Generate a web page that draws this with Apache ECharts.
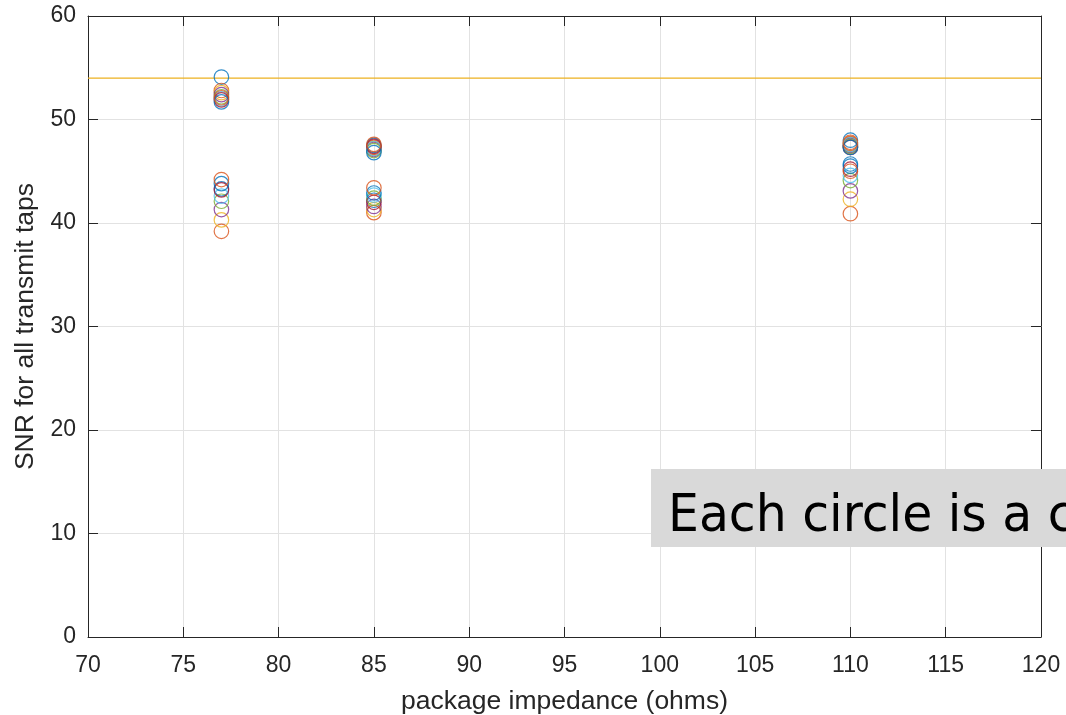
<!DOCTYPE html>
<html>
<head>
<meta charset="utf-8">
<script src="https://cdn.jsdelivr.net/npm/echarts@6/dist/echarts.min.js"></script>
<style>html,body{margin:0;padding:0;background:#fff;}#c{width:1066px;height:715px;}</style>
</head>
<body>
<div id="c"></div>
<script>
// x position of each value (package impedance, ohms)
const impedance = [77, 77, 85, 85, 110, 110];
// SNR values per channel (circle), pairs per impedance: [upper, lower]
const ch1 = [54.1, 43.3, 47.5, 42.2, 48.0, 45.7];
const ch2 = [52.8, 39.2, 47.3, 41.0, 47.8, 40.9];
const ch3 = [52.6, 40.3, 47.2, 41.3, 47.6, 42.3];
const ch4 = [52.4, 41.3, 47.1, 41.6, 47.5, 43.1];
const ch5 = [52.2, 42.1, 47.0, 42.4, 47.4, 44.1];
const ch6 = [52.0, 42.6, 47.2, 42.7, 47.6, 44.6];
const ch7 = [51.9, 43.2, 47.4, 42.0, 47.3, 45.2];
const ch8 = [51.7, 43.8, 46.8, 42.9, 47.3, 45.5];
const ch9 = [52.1, 44.2, 47.6, 43.4, 47.7, 45.0];
const channels = [ch1, ch2, ch3, ch4, ch5, ch6, ch7, ch8, ch9];
const threshold = 54;
const xTicks = {min: 70, max: 120, interval: 5};
const yTicks = {min: 0, max: 60, interval: 10};
const annotation = 'Each circle is a c';

const colors = ['#0072BD', '#D95319', '#EDB120', '#7E2F8E', '#77AC30', '#4DBEEE', '#A2142F'];
const axisColor = '#262626';
const font = 'Arial, "Liberation Sans", Helvetica, sans-serif';

const chart = echarts.init(document.getElementById('c'), null, {renderer: 'canvas'});

const series = channels.map((vals, i) => ({
  type: 'scatter',
  symbol: 'circle',
  symbolSize: 14.5,
  itemStyle: {color: 'rgba(0,0,0,0)', borderColor: colors[i % colors.length], borderWidth: 1.2},
  data: vals.map((v, j) => [impedance[j], v]),
  z: 3
}));
series.push({
  type: 'line',
  showSymbol: false,
  silent: true,
  itemStyle: {color: '#EDB120'},
  lineStyle: {color: '#EDB120', width: 1.2, type: 'solid'},
  data: [[xTicks.min, threshold], [xTicks.max, threshold]],
  z: 2
});

function baseX(extra) {
  return Object.assign({
    type: 'value', min: xTicks.min, max: xTicks.max, interval: xTicks.interval,
    axisLine: {show: true, onZero: false, lineStyle: {color: axisColor, width: 1}},
    axisTick: {show: true, inside: true, length: 10, lineStyle: {color: axisColor}},
    splitLine: {show: false}
  }, extra);
}
function baseY(extra) {
  return Object.assign({
    type: 'value', min: yTicks.min, max: yTicks.max, interval: yTicks.interval,
    axisLine: {show: true, onZero: false, lineStyle: {color: axisColor, width: 1}},
    axisTick: {show: true, inside: true, length: 10, lineStyle: {color: axisColor}},
    splitLine: {show: false}
  }, extra);
}

chart.setOption({
  animation: false,
  backgroundColor: '#fff',
  grid: {left: 88, right: 25, top: 16, bottom: 78, containLabel: false, outerBoundsMode: 'none'},
  xAxis: [
    baseX({
      position: 'bottom',
      name: 'package impedance (ohms)', nameLocation: 'middle', nameGap: 51,
      nameTextStyle: {color: axisColor, fontSize: 26.5, fontFamily: font},
      axisLabel: {color: axisColor, fontSize: 23, fontFamily: font, margin: 17},
      splitLine: {show: true, lineStyle: {color: '#e2e2e2', width: 1}}
    }),
    baseX({position: 'top', axisLabel: {show: false}})
  ],
  yAxis: [
    baseY({
      position: 'left',
      name: 'SNR for all transmit taps', nameLocation: 'middle', nameGap: 43,
      nameTextStyle: {color: axisColor, fontSize: 26.5, fontFamily: font},
      axisLabel: {color: axisColor, fontSize: 23, fontFamily: font, margin: 12},
      splitLine: {show: true, lineStyle: {color: '#e2e2e2', width: 1}}
    }),
    baseY({position: 'right', axisLabel: {show: false}})
  ],
  series: series,
  graphic: [
    {type: 'rect', z: 100, shape: {x: 651, y: 469, width: 420, height: 78}, style: {fill: '#d9d9d9'}},
    {type: 'text', z: 101, x: 668, y: 517.5, scaleX: 0.94,
     style: {text: annotation, font: '52px "DejaVu Sans"', fill: '#000', verticalAlign: 'middle', align: 'left'}}
  ]
});
</script>
</body>
</html>
